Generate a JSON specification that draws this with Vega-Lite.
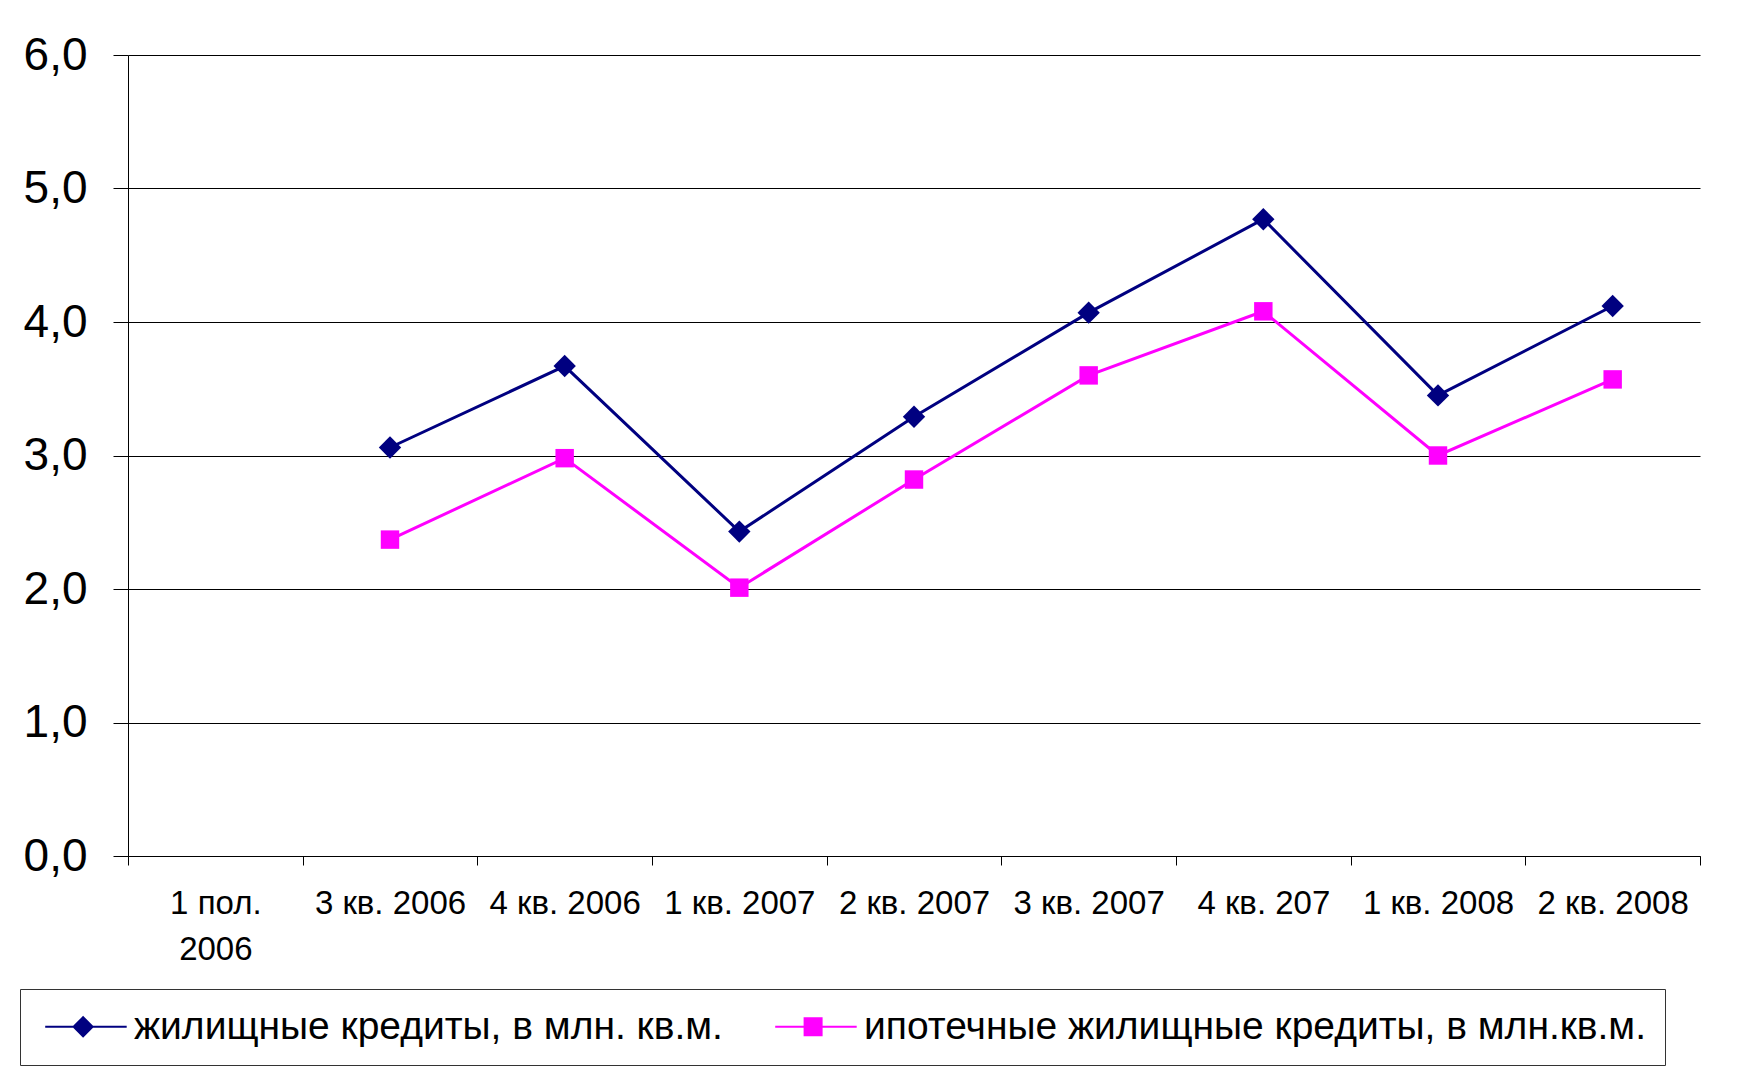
{
  "$schema": "https://vega.github.io/schema/vega-lite/v6.json",
  "autosize": "none",
  "width": 1572,
  "height": 801,
  "padding": {"left": 128, "top": 55, "right": 51, "bottom": 218},
  "background": "white",
  "config": {
    "view": {"stroke": null},
    "font": "Liberation Sans"
  },
  "data": {
    "values": [
      {"period": "3 кв. 2006", "series": "жилищные кредиты, в млн. кв.м.", "value": 3.06},
      {"period": "4 кв. 2006", "series": "жилищные кредиты, в млн. кв.м.", "value": 3.67},
      {"period": "1 кв. 2007", "series": "жилищные кредиты, в млн. кв.м.", "value": 2.43},
      {"period": "2 кв. 2007", "series": "жилищные кредиты, в млн. кв.м.", "value": 3.29},
      {"period": "3 кв. 2007", "series": "жилищные кредиты, в млн. кв.м.", "value": 4.07},
      {"period": "4 кв. 207", "series": "жилищные кредиты, в млн. кв.м.", "value": 4.77},
      {"period": "1 кв. 2008", "series": "жилищные кредиты, в млн. кв.м.", "value": 3.45},
      {"period": "2 кв. 2008", "series": "жилищные кредиты, в млн. кв.м.", "value": 4.12},
      {"period": "3 кв. 2006", "series": "ипотечные жилищные кредиты, в млн.кв.м.", "value": 2.37},
      {"period": "4 кв. 2006", "series": "ипотечные жилищные кредиты, в млн.кв.м.", "value": 2.98},
      {"period": "1 кв. 2007", "series": "ипотечные жилищные кредиты, в млн.кв.м.", "value": 2.01},
      {"period": "2 кв. 2007", "series": "ипотечные жилищные кредиты, в млн.кв.м.", "value": 2.82},
      {"period": "3 кв. 2007", "series": "ипотечные жилищные кредиты, в млн.кв.м.", "value": 3.60},
      {"period": "4 кв. 207", "series": "ипотечные жилищные кредиты, в млн.кв.м.", "value": 4.08},
      {"period": "1 кв. 2008", "series": "ипотечные жилищные кредиты, в млн.кв.м.", "value": 3.00},
      {"period": "2 кв. 2008", "series": "ипотечные жилищные кредиты, в млн.кв.м.", "value": 3.57}
    ]
  },
  "encoding": {
    "x": {
      "field": "period",
      "type": "nominal",
      "bandPosition": 0.5,
      "scale": {
        "type": "band",
        "paddingInner": 0,
        "paddingOuter": 0,
        "domain": ["1 пол. 2006", "3 кв. 2006", "4 кв. 2006", "1 кв. 2007", "2 кв. 2007", "3 кв. 2007", "4 кв. 207", "1 кв. 2008", "2 кв. 2008"]
      },
      "axis": {
        "title": null,
        "tickBand": "extent",
        "labelAngle": 0,
        "labelFont": "Liberation Sans",
        "labelFontSize": 33,
        "labelColor": "black",
        "labelPadding": 22,
        "labelLineHeight": 46,
        "labelLimit": 0,
        "labelExpr": "datum.label == '1 пол. 2006' ? ['1 пол.', '2006'] : datum.label",
        "tickSize": 9,
        "tickColor": "black",
        "domainColor": "black",
        "domainWidth": 1,
        "grid": false
      }
    },
    "y": {
      "field": "value",
      "type": "quantitative",
      "scale": {"domain": [0, 6], "nice": false, "zero": true},
      "axis": {
        "title": null,
        "values": [0, 1, 2, 3, 4, 5, 6],
        "labelExpr": "replace(format(datum.value, '.1f'), '.', ',')",
        "labelFont": "Liberation Sans",
        "labelFontSize": 46,
        "labelColor": "black",
        "labelPadding": 26,
        "tickSize": 15,
        "tickColor": "black",
        "domainColor": "black",
        "grid": true,
        "gridColor": "black",
        "gridWidth": 1,
        "gridOpacity": 1
      }
    },
    "color": {
      "field": "series",
      "type": "nominal",
      "scale": {
        "domain": ["жилищные кредиты, в млн. кв.м.", "ипотечные жилищные кредиты, в млн.кв.м."],
        "range": ["#000080", "#FF00FF"]
      },
      "legend": {
        "title": null,
        "orient": "none",
        "direction": "horizontal",
        "legendX": -108,
        "legendY": 934,
        "padding": 18,
        "strokeColor": "#333333",
        "fillColor": "white",
        "symbolSize": 400,
        "symbolStrokeWidth": 2,
        "labelFont": "Liberation Sans",
        "labelFontSize": 39,
        "labelColor": "black",
        "labelLimit": 2000,
        "labelOffset": 57,
        "columnPadding": 45,
        "encode": {
          "symbols": {
            "update": {
              "shape": {"signal": "indexof(datum.value, 'ипотечные') === 0 ? 'M-1.23,0H6.92M1.71,-0.85H3.41V0.85H1.71Z' : 'M-1.23,0H6.92M2.56,-0.95L3.51,0L2.56,0.95L1.61,0Z'"},
              "fill": {"scale": "color", "field": "value"},
              "stroke": {"scale": "color", "field": "value"},
              "strokeWidth": {"value": 2},
              "opacity": {"value": 1}
            }
          }
        }
      }
    }
  },
  "layer": [
    {
      "mark": {"type": "line", "strokeWidth": 3}
    },
    {
      "transform": [{"filter": "datum.series === 'жилищные кредиты, в млн. кв.м.'"}],
      "mark": {"type": "point", "filled": true, "opacity": 1, "size": 500, "shape": "diamond"}
    },
    {
      "transform": [{"filter": "datum.series === 'ипотечные жилищные кредиты, в млн.кв.м.'"}],
      "mark": {"type": "point", "filled": true, "opacity": 1, "size": 340, "shape": "square"}
    }
  ]
}
